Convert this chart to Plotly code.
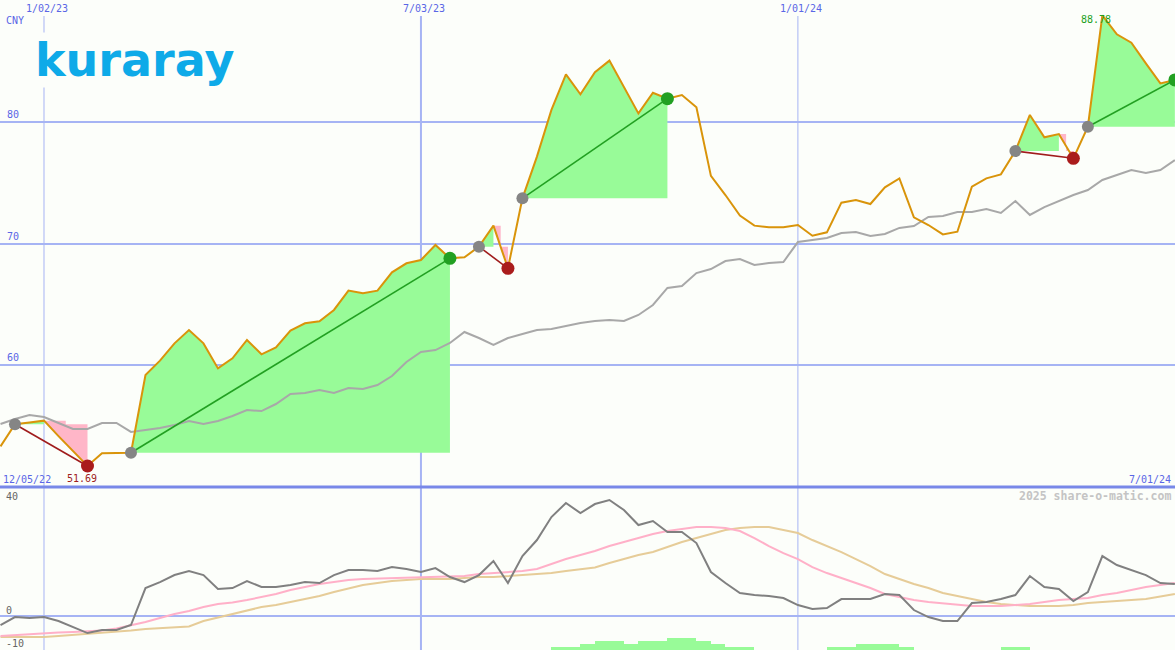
import pandas as pd
import plotly.graph_objects as go

# weekly closes, 12/12/22 .. 7/01/24
weeks = pd.date_range("2022-12-12", "2024-07-01", freq="7D")

price = [53.3, 55.12, 55.26, 55.42, 54.15, 52.9, 51.69, 52.73, 52.73, 52.78,
         59.18, 60.36, 61.78, 62.88, 61.78, 59.72, 60.55, 62.06, 60.88, 61.45,
         62.83, 63.43, 63.6, 64.53, 66.12, 65.9, 66.12, 67.63, 68.37, 68.64,
         69.88, 68.78, 68.86, 69.74, 71.47, 67.96, 73.72, 77.15, 80.99, 83.92,
         82.28, 84.09, 85.05, 82.91, 80.71, 82.41, 81.92, 82.22, 81.21, 75.56,
         73.99, 72.3, 71.47, 71.33, 71.33, 71.52, 70.64, 70.92, 73.36, 73.58,
         73.25, 74.62, 75.36, 72.15, 71.52, 70.75, 70.97, 74.68, 75.36, 75.69,
         77.61, 80.58, 78.74, 79.01, 77.01, 79.61, 88.78, 87.22, 86.53, 84.83,
         83.18, 83.46]

price_ma = [55.14, 55.56, 55.88, 55.72, 55.23, 54.73, 54.73, 55.23, 55.23, 54.49,
            54.65, 54.81, 55.06, 55.39, 55.14, 55.39, 55.80, 56.30, 56.21, 56.79,
            57.61, 57.70, 57.94, 57.70, 58.11, 58.02, 58.35, 59.09, 60.25, 61.07,
            61.23, 61.81, 62.72, 62.22, 61.65, 62.22, 62.55, 62.88, 62.96, 63.21,
            63.46, 63.62, 63.70, 63.62, 64.12, 64.94, 66.34, 66.50, 67.57, 67.90,
            68.56, 68.72, 68.23, 68.40, 68.48, 70.12, 70.29, 70.45, 70.86, 70.95,
            70.62, 70.78, 71.28, 71.44, 72.18, 72.26, 72.59, 72.59, 72.84, 72.51,
            73.50, 72.35, 73.00, 73.50, 73.99, 74.40, 75.23, 75.64, 76.05, 75.80,
            76.05, 76.87]

osc = [-3.05, -0.34, -0.68, -0.34, -1.69, -3.72, -5.76, -4.74, -4.74, -3.05,
       9.48, 11.51, 13.88, 15.24, 13.88, 9.14, 9.48, 11.85, 9.82, 9.82,
       10.50, 11.51, 11.17, 13.88, 15.58, 15.58, 15.24, 16.59, 15.92, 14.90,
       16.25, 13.21, 11.51, 13.88, 18.63, 11.17, 20.32, 25.74, 33.53, 38.27,
       34.88, 37.93, 39.28, 35.90, 30.82, 32.17, 28.45, 28.45, 24.72, 14.90,
       11.17, 7.79, 7.11, 6.77, 6.10, 3.73, 2.37, 2.71, 5.76, 5.76,
       5.76, 7.45, 7.11, 2.03, -0.34, -1.69, -1.69, 4.40, 4.74, 5.76,
       7.11, 13.55, 9.82, 9.14, 5.08, 8.13, 20.32, 17.27, 15.58, 13.88,
       11.17, 10.84]

osc_fast = [-6.77, -6.43, -6.10, -5.76, -5.59, -5.42, -5.08, -4.91, -4.23, -3.22,
            -2.03, -0.68, 0.68, 1.69, 3.05, 4.06, 4.57, 5.42, 6.43, 7.45,
            8.80, 9.82, 10.84, 11.51, 12.19, 12.53, 12.70, 12.87, 12.87, 13.04,
            13.21, 13.38, 13.55, 14.22, 14.56, 14.73, 15.24, 15.92, 17.61, 19.30,
            20.66, 22.01, 23.70, 25.06, 26.41, 27.77, 28.78, 29.46, 30.14, 30.14,
            29.80, 28.78, 26.41, 23.70, 21.33, 19.30, 16.59, 14.56, 12.87, 11.17,
            9.48, 7.45, 6.43, 5.42, 4.74, 4.23, 3.73, 3.39, 3.39, 3.39,
            3.73, 4.06, 4.74, 5.42, 5.76, 6.10, 7.11, 7.79, 8.80, 9.82,
            10.50, 11.17]

osc_slow = [-7.11, -7.11, -7.11, -7.11, -6.77, -6.43, -6.10, -5.76, -5.42, -4.91,
            -4.40, -4.06, -3.89, -3.56, -1.69, -0.51, 0.68, 2.03, 3.05, 3.73,
            4.74, 5.76, 6.77, 8.13, 9.31, 10.50, 11.17, 11.85, 12.19, 12.53,
            12.53, 12.53, 12.87, 13.21, 13.21, 13.55, 13.72, 14.05, 14.56, 15.24,
            15.92, 16.42, 17.95, 19.30, 20.66, 21.67, 23.37, 25.06, 26.41, 27.77,
            29.12, 29.80, 30.14, 30.14, 29.12, 28.11, 25.74, 23.70, 21.67, 19.30,
            16.93, 14.22, 12.53, 10.84, 9.48, 7.79, 6.77, 5.76, 4.74, 4.06,
            3.73, 3.39, 3.39, 3.39, 3.73, 4.40, 4.74, 5.08, 5.42, 5.76,
            6.60, 7.45]

trade_entry = ["2022-12-19", "2023-02-13", "2023-07-31", "2023-08-21", "2024-04-15", "2024-05-20"]
trade_exit = ["2023-01-23", "2023-07-17", "2023-08-14", "2023-10-30", "2024-05-13", "2024-07-01"]

bar_weeks = ["2023-09-04", "2023-09-11", "2023-09-18", "2023-09-25", "2023-10-02", "2023-10-09",
             "2023-10-16", "2023-10-23", "2023-10-30", "2023-11-06", "2023-11-13", "2023-11-20",
             "2023-11-27", "2023-12-04", "2024-01-15", "2024-01-22", "2024-01-29", "2024-02-05",
             "2024-02-12", "2024-02-19", "2024-04-08", "2024-04-15"]
bar_level = [1, 1, 2, 3, 3, 2, 3, 3, 4, 4, 3, 2, 1, 1, 1, 1, 2, 2, 2, 1, 1, 1]

grid_dates = ["2023-01-02", "2023-07-03", "2024-01-01"]
grid_labels = ["1/02/23", "7/03/23", "1/01/24"]
price_grid = [60, 70, 80]

BG = "#fcfefa"
BLUE = "#5a66e6"
GRID = "#a6b4f4"
GREEN_FILL = "#98fb98"
PINK_FILL = "#ffb6c8"
MONO = "DejaVu Sans Mono"
LOW_BASE = -11.5

s = pd.Series(price, index=weeks)

fig = go.Figure()


def add_fill(xs, ys, color):
    fig.add_trace(go.Scatter(x=xs, y=ys, fill="toself", fillcolor=color, mode="lines",
                             line=dict(width=0), hoverinfo="skip", showlegend=False))


# shaded trade areas
trades = []
for t0, t1 in zip(trade_entry, trade_exit):
    t0, t1 = pd.Timestamp(t0), pd.Timestamp(t1)
    seg = s[t0:t1]
    p0, p1 = seg.iloc[0], seg.iloc[-1]
    win = p1 > p0
    trades.append((t0, t1, p0, p1, win))
    if win:
        add_fill(list(seg.index) + [t1, t0], list(seg.values) + [p0, p0], GREEN_FILL)
    else:
        tp = seg[seg > p0].index[-1]
        up = s[t0:tp]
        add_fill(list(up.index) + [tp, t0], list(up.values) + [p0, p0], GREEN_FILL)
        down = s[tp:t1]
        tm = tp + (t1 - tp) / 2
        pk = down.iloc[0]
        add_fill([tp, tm, tm, t1] + list(down.index[::-1]),
                 [pk, pk, p0, p0] + list(down.values[::-1]), PINK_FILL)

fig.add_trace(go.Scatter(x=weeks, y=price_ma, mode="lines", line=dict(color="#a8a8a8", width=2),
                         showlegend=False))
fig.add_trace(go.Scatter(x=weeks, y=price, mode="lines", line=dict(color="#d9940a", width=2),
                         showlegend=False))

for t0, t1, p0, p1, win in trades:
    c_line = "#22a022" if win else "#a01c1c"
    fig.add_trace(go.Scatter(x=[t0, t1], y=[p0, p1], mode="lines", line=dict(color=c_line, width=1.6),
                             showlegend=False))
    fig.add_trace(go.Scatter(x=[t0], y=[p0], mode="markers", marker=dict(color="#858585", size=12),
                             showlegend=False))
    fig.add_trace(go.Scatter(x=[t1], y=[p1], mode="markers",
                             marker=dict(color="#22a022" if win else "#aa1c1c", size=13),
                             showlegend=False))

# lower panel
fig.add_trace(go.Bar(x=pd.to_datetime(bar_weeks), y=bar_level, base=LOW_BASE, offset=0,
                     width=7 * 24 * 3600 * 1000, marker=dict(color=GREEN_FILL, line=dict(width=0)),
                     yaxis="y2", showlegend=False))
fig.add_trace(go.Scatter(x=weeks, y=osc_slow, mode="lines", line=dict(color="#e6cc98", width=2),
                         yaxis="y2", showlegend=False))
fig.add_trace(go.Scatter(x=weeks, y=osc_fast, mode="lines", line=dict(color="#ffb0c8", width=2),
                         yaxis="y2", showlegend=False))
fig.add_trace(go.Scatter(x=weeks, y=osc, mode="lines", line=dict(color="#808080", width=2),
                         yaxis="y2", showlegend=False))

split = (650 - 487) / 650

shapes = []
for d, w in zip(grid_dates, [1, 2, 1]):
    shapes.append(dict(type="line", xref="x", yref="paper", x0=d, x1=d, y0=0, y1=1 - 16 / 650,
                       line=dict(color=GRID, width=w), layer="below"))
shapes.append(dict(type="line", xref="paper", yref="paper", x0=0, x1=1, y0=split, y1=split,
                   line=dict(color="#7888e8", width=3), layer="below"))

ann = []
for d, lab in zip(grid_dates, grid_labels):
    ann.append(dict(x=d, xref="x", y=1 - 8 / 650, yref="paper", text=lab, showarrow=False,
                    xanchor="center", yanchor="middle", xshift=3, font=dict(family=MONO, size=10, color=BLUE)))
for v in price_grid:
    ann.append(dict(x=5 / 1175, xref="paper", y=v, yref="y", text=str(v), showarrow=False,
                    xanchor="left", yanchor="bottom", font=dict(family=MONO, size=10, color=BLUE)))
for lab, py in [("40", 496), ("0", 610), ("-10", 643)]:
    ann.append(dict(x=4 / 1175, xref="paper", y=1 - py / 650, yref="paper", text=lab, showarrow=False,
                    xanchor="left", yanchor="middle", font=dict(family=MONO, size=10, color="#666666")))
ann += [
    dict(x=4 / 1175, xref="paper", y=1 - 20 / 650, yref="paper", text="CNY", showarrow=False,
         xanchor="left", yanchor="middle", font=dict(family=MONO, size=10, color=BLUE)),
    dict(x=1 / 1175, xref="paper", y=1 - 479 / 650, yref="paper", text="12/05/22", showarrow=False,
         xanchor="left", yanchor="middle", font=dict(family=MONO, size=10, color=BLUE)),
    dict(x=1, xref="paper", y=1 - 479 / 650, yref="paper", text="7/01/24", showarrow=False,
         xanchor="right", yanchor="middle", xshift=-2, font=dict(family=MONO, size=10, color=BLUE)),
    dict(x=1, xref="paper", y=1 - 496 / 650, yref="paper", text="<b>2025 share-o-matic.com</b>",
         showarrow=False, xanchor="right", yanchor="middle", xshift=-2,
         font=dict(family=MONO, size=11.5, color="#c4c4c4")),
    dict(x=34 / 1175, xref="paper", y=1 - 60 / 650, yref="paper", text="<b>kuraray</b>", showarrow=False,
         xanchor="left", yanchor="middle", bgcolor=BG, borderpad=0,
         font=dict(family="DejaVu Sans", size=46, color="#0eaae8")),
]
lo_t, hi_t = s.idxmin(), s.idxmax()
ann.append(dict(x=lo_t, y=s.min(), xref="x", yref="y", text=f"{s.min():.2f}", showarrow=False,
                yanchor="middle", xshift=-5, yshift=-13, font=dict(family=MONO, size=10, color="#a01c1c")))
ann.append(dict(x=hi_t, y=s.max(), xref="x", yref="y", text=f"{s.max():.2f}", showarrow=False,
                yanchor="middle", xshift=-6, yshift=-4, font=dict(family=MONO, size=10, color="#22a022")))

fig.update_layout(
    width=1175, height=650,
    margin=dict(l=0, r=0, t=0, b=0),
    paper_bgcolor=BG, plot_bgcolor=BG,
    showlegend=False,
    bargap=0,
    xaxis=dict(range=["2022-12-11 18:15", "2024-07-01 01:40"], visible=False, showgrid=False),
    yaxis=dict(domain=[split, 1], range=[49.96, 90.04], tickvals=price_grid, showticklabels=False,
               showgrid=True, gridcolor=GRID, gridwidth=2, zeroline=False),
    yaxis2=dict(domain=[0, split], range=[LOW_BASE, 43.7], tickvals=[0], showticklabels=False,
                showgrid=True, gridcolor=GRID, gridwidth=2, zeroline=False, anchor="x"),
    shapes=shapes,
    annotations=ann,
)

# the page's default body margin would push the 1175x650 figure off by 8px
fig.write_html("out.html", config={"displayModeBar": False},
               post_script="document.body.style.margin='0';document.body.style.overflow='hidden';")
